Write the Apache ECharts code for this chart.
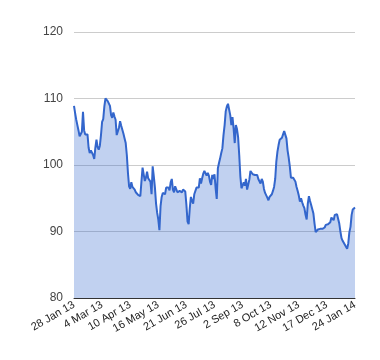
<!DOCTYPE html>
<html>
<head>
<meta charset="utf-8">
<script src="https://cdn.jsdelivr.net/npm/echarts@6/dist/echarts.min.js"></script>
<style>html,body{margin:0;padding:0;background:#fff}#c{width:380px;height:360px}</style>
</head>
<body>
<div id="c"></div>
<script>
var tickLabels = ['28 Jan 13','4 Mar 13','10 Apr 13','16 May 13','21 Jun 13','26 Jul 13','2 Sep 13','8 Oct 13','12 Nov 13','17 Dec 13','24 Jan 14'];
var yTicks = [80, 90, 100, 110, 120];
var values = [
108.9,107.8,106.8,106.0,105.2,104.3,104.0,105.0,108.0,105.2,
104.6,104.4,104.6,102.6,101.8,102.2,102.3,101.5,100.9,102.6,
103.8,102.7,102.3,102.9,104.5,106.5,106.9,108.8,110.0,110.2,
109.6,109.9,108.9,107.5,107.1,107.9,107.3,106.8,104.5,104.8,
105.6,106.6,105.9,105.3,104.7,104.0,103.3,101.5,98.8,96.8,
96.4,97.4,96.7,96.5,96.3,95.9,95.6,95.5,95.4,95.3,
97.5,99.6,98.6,97.6,98.1,99.0,98.0,97.7,97.5,95.6,
99.8,98.3,96.6,94.2,92.8,91.8,90.2,93.8,95.2,95.8,
96.0,95.6,96.6,96.4,96.6,96.2,97.4,97.9,96.3,95.9,
96.8,96.6,95.9,95.6,96.1,96.4,95.9,96.3,96.5,96.0,
94.0,91.5,91.1,93.5,95.2,94.6,94.2,95.6,95.9,96.6,
96.6,96.6,98.0,97.2,98.0,98.7,99.1,98.9,98.4,98.8,
98.4,97.5,97.0,98.5,97.9,98.6,96.5,94.9,99.5,100.3,
101.0,101.8,102.5,104.5,106.0,108.1,108.8,109.2,109.5,107.5,
106.0,107.2,105.5,103.3,106.0,105.4,104.2,101.5,98.3,96.5,
96.3,97.4,96.9,97.9,96.3,96.5,97.8,99.1,99.3,98.6,
98.8,98.5,98.7,98.5,97.9,98.0,97.2,97.9,97.5,96.4,
95.8,95.5,95.1,94.7,95.2,95.4,95.6,96.1,96.7,97.9,
100.5,102.0,103.0,103.8,104.0,104.1,104.6,105.1,105.1,104.0,
102.2,101.1,99.8,98.1,98.1,98.1,98.0,97.5,96.7,96.1,
95.4,94.5,95.0,94.4,93.9,93.5,92.5,91.8,94.2,95.3,
94.6,94.0,93.7,92.7,91.2,89.9,90.1,90.3,90.1,90.4,
90.1,90.4,90.3,90.6,91.0,91.1,91.1,90.8,91.4,92.1,
92.1,91.7,92.5,92.6,92.6,92.4,91.2,90.0,89.0,88.6,
88.4,88.0,87.7,87.4,88.2,89.9,90.7,92.5,93.3,93.5,
93.6
];
var labelStep = 25;
var categories = values.map(function (v, i) { return String(i); });

var chart = echarts.init(document.getElementById('c'), null, {renderer: 'canvas'});
var font = 'Arial, "Liberation Sans", sans-serif';
chart.setOption({
  animation: false,
  grid: {left: 74, right: 25, top: 32, bottom: 62, containLabel: false},
  xAxis: {
    type: 'category',
    data: categories,
    boundaryGap: false,
    axisLine: {show: true, lineStyle: {color: '#333', width: 1}},
    axisTick: {show: false},
    splitLine: {show: false},
    axisLabel: {
      interval: labelStep - 1,
      rotate: 30,
      margin: 6,
      color: '#222',
      fontSize: 11,
      fontFamily: font,
      formatter: function (v, idx) { return tickLabels[Math.round(idx / labelStep)] || ''; }
    }
  },
  yAxis: {
    type: 'value',
    min: yTicks[0],
    max: yTicks[yTicks.length - 1],
    interval: 10,
    axisLine: {show: false},
    axisTick: {show: false},
    splitLine: {lineStyle: {color: '#cccccc', width: 1}},
    axisLabel: {color: '#444', fontSize: 12, fontFamily: font, margin: 11}
  },
  series: [{
    type: 'line',
    data: values,
    showSymbol: false,
    smooth: false,
    lineStyle: {color: '#3366cc', width: 2},
    itemStyle: {color: '#3366cc'},
    areaStyle: {color: '#3366cc', opacity: 0.3, origin: 'start'}
  }]
});
</script>
</body>
</html>
